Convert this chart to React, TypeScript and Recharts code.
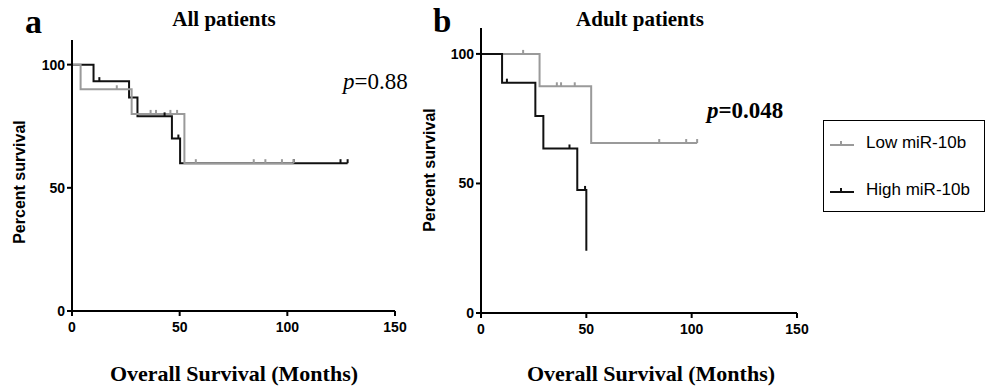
import React from 'react';
import { LineChart, Line, XAxis, YAxis } from 'recharts';

// [months, percent survival, censored (1 = tick mark)]
const allLow = [
  [0, 100, 0], [4, 90, 0], [20.8, 90, 1], [27.7, 80, 0], [36.5, 80, 1], [39, 80, 1],
  [45.7, 80, 1], [48.8, 80, 1], [52.2, 60, 0], [57.5, 60, 1], [84.4, 60, 1],
  [89.8, 60, 1], [97.5, 60, 1], [103, 60, 1],
];
const allHigh = [
  [0, 100, 0], [10, 93.3, 0], [12.7, 93.3, 1], [26.5, 86.7, 0], [30.4, 79, 0],
  [43, 79, 1], [46.4, 70, 0], [49.4, 70, 1], [50.2, 60, 0], [103, 60, 1],
  [124.7, 60, 1], [128, 60, 1],
];
const adultLow = [
  [0, 100, 0], [20, 100, 1], [27.8, 87.5, 0], [36, 87.5, 1], [38, 87.5, 1],
  [44.5, 87.5, 1], [52.3, 65.6, 0], [84.6, 65.6, 1], [97.4, 65.6, 1], [102.6, 65.6, 1],
];
const adultHigh = [
  [0, 100, 0], [10, 88.9, 0], [12.3, 88.9, 1], [25.8, 76, 0], [29.6, 63.5, 0],
  [42, 63.5, 1], [45.7, 47.5, 0], [49.4, 47.5, 1], [50, 24, 0],
];

const xTicks = [0, 50, 100, 150];
const yTicks = [0, 50, 100];
const seriesNames = ['Low miR-10b', 'High miR-10b'];

const LOW_COLOR = '#9a9a9a';
const HIGH_COLOR = '#111111';
const sans = '"Liberation Sans", Arial, sans-serif';
const serif = '"Liberation Serif", "Times New Roman", serif';

const toRows = (arr: number[][]) => arr.map(([t, s, c]) => ({ t, s, c }));

const renderCensor = (props: any) => {
  const { cx, cy, payload, stroke, index } = props;
  if (!payload || !payload.c) return <g key={`d-${index}`} />;
  return (
    <line key={`d-${index}`} x1={cx} x2={cx} y1={cy} y2={cy - 4} stroke={stroke} strokeWidth={2} />
  );
};

const tickStyle = { fill: '#000', fontSize: 14, fontWeight: 'bold', fontFamily: sans };

interface SurvivalPlotProps {
  low: number[][];
  high: number[][];
  width: number;
  top: number;
  right: number;
  yAxisWidth: number;
  xAxisHeight: number;
  lowOnTop?: boolean;
}

const SurvivalPlot: React.FC<SurvivalPlotProps> = ({ low, high, width, top, right, yAxisWidth, xAxisHeight, lowOnTop }) => {
  const lowLine = (
    <Line
      key="low"
      data={toRows(low)}
      dataKey="s"
      type="stepAfter"
      stroke={LOW_COLOR}
      strokeWidth={2}
      dot={renderCensor}
      activeDot={false}
      isAnimationActive={false}
      name={seriesNames[0]}
    />
  );
  const highLine = (
    <Line
      key="high"
      data={toRows(high)}
      dataKey="s"
      type="stepAfter"
      stroke={HIGH_COLOR}
      strokeWidth={2}
      dot={renderCensor}
      activeDot={false}
      isAnimationActive={false}
      name={seriesNames[1]}
    />
  );
  return (
    <LineChart width={width} height={392} margin={{ top, right, bottom: 0, left: 0 }}>
      <XAxis
        type="number"
        dataKey="t"
        domain={[0, 150]}
        ticks={xTicks}
        height={xAxisHeight}
        axisLine={{ stroke: '#000', strokeWidth: 2 }}
        tickLine={{ stroke: '#000', strokeWidth: 2 }}
        tickSize={5}
        tickMargin={6}
        tick={tickStyle}
        allowDuplicatedCategory={false}
      />
      <YAxis
        type="number"
        domain={[0, 110]}
        ticks={yTicks}
        width={yAxisWidth}
        axisLine={{ stroke: '#000', strokeWidth: 2 }}
        tickLine={{ stroke: '#000', strokeWidth: 2 }}
        tickSize={5}
        tick={tickStyle}
      />
      {lowOnTop ? [highLine, lowLine] : [lowLine, highLine]}
    </LineChart>
  );
};

const abs = (left: number, top: number, extra: React.CSSProperties = {}): React.CSSProperties => ({
  position: 'absolute',
  left,
  top,
  whiteSpace: 'nowrap',
  lineHeight: 1,
  ...extra,
});

export default function App() {
  return (
    <div style={{ position: 'absolute', left: 0, top: 0, width: 989, height: 392, background: '#fff', overflow: 'hidden' }}>
      <div style={abs(0, 0)}>
        <SurvivalPlot low={allLow} high={allHigh} width={420} top={40} right={25} yAxisWidth={72} xAxisHeight={81} lowOnTop />
      </div>
      <div style={abs(410, 0)}>
        <SurvivalPlot low={adultLow} high={adultHigh} width={410} top={28} right={23} yAxisWidth={71} xAxisHeight={79} />
      </div>

      {/* panel letters and titles */}
      <div style={abs(25, 5, { fontFamily: serif, fontWeight: 'bold', fontSize: 34 })}>a</div>
      <div style={abs(433, 5, { fontFamily: serif, fontWeight: 'bold', fontSize: 33 })}>b</div>
      <div style={abs(164, 9, { width: 120, textAlign: 'center', fontFamily: serif, fontWeight: 'bold', fontSize: 21 })}>All patients</div>
      <div style={abs(565, 9, { width: 150, textAlign: 'center', fontFamily: serif, fontWeight: 'bold', fontSize: 21 })}>Adult patients</div>

      {/* p values */}
      <div style={abs(343, 70, { fontFamily: serif, fontSize: 23 })}><i>p</i>=0.88</div>
      <div style={abs(707, 99, { fontFamily: serif, fontSize: 23, fontWeight: 'bold' })}><i>p</i>=0.048</div>

      {/* axis titles */}
      <div style={abs(84, 363, { width: 300, textAlign: 'center', fontFamily: serif, fontWeight: 'bold', fontSize: 22 })}>Overall Survival (Months)</div>
      <div style={abs(501, 363, { width: 300, textAlign: 'center', fontFamily: serif, fontWeight: 'bold', fontSize: 22 })}>Overall Survival (Months)</div>
      <div style={abs(-55, 174, { width: 150, textAlign: 'center', fontFamily: sans, fontWeight: 'bold', fontSize: 16, transform: 'rotate(-90deg)' })}>Percent survival</div>
      <div style={abs(355, 162, { width: 150, textAlign: 'center', fontFamily: sans, fontWeight: 'bold', fontSize: 16, transform: 'rotate(-90deg)' })}>Percent survival</div>

      {/* legend */}
      <div style={abs(823, 120, { width: 160, height: 90, border: '1.5px solid #000', fontFamily: sans, fontSize: 17 })}>
        {seriesNames.map((name, i) => (
          <div key={name} style={{ position: 'absolute', left: 4, top: i === 0 ? 13 : 60, display: 'flex', alignItems: 'center' }}>
            <svg width={26} height={10}>
              <line x1={2} x2={26} y1={7} y2={7} stroke={i === 0 ? LOW_COLOR : HIGH_COLOR} strokeWidth={2} />
              <line x1={13} x2={13} y1={7} y2={3} stroke={i === 0 ? LOW_COLOR : HIGH_COLOR} strokeWidth={2} />
            </svg>
            <span style={{ marginLeft: 12 }}>{name}</span>
          </div>
        ))}
      </div>
    </div>
  );
}
